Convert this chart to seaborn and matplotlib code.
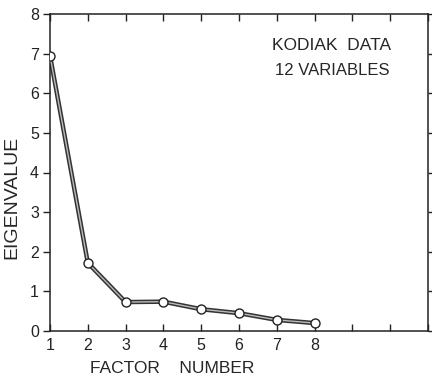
import matplotlib
matplotlib.use("Agg")
import matplotlib.pyplot as plt
import seaborn as sns
import pandas as pd

factors = [1, 2, 3, 4, 5, 6, 7, 8]
eigenvalues = [6.95, 1.72, 0.73, 0.74, 0.55, 0.45, 0.28, 0.20]
xticks = [1, 2, 3, 4, 5, 6, 7, 8]
yticks = [0, 1, 2, 3, 4, 5, 6, 7, 8]

sns.set_style("ticks")
plt.rcParams['font.family'] = ['Liberation Sans', 'DejaVu Sans']

df = pd.DataFrame({"factor": factors, "eigen": eigenvalues})

fig = plt.figure(figsize=(4.32, 3.75), dpi=100)
ax = fig.add_axes([50/432, 44/375, 378/432, 317/375])

sns.lineplot(data=df, x="factor", y="eigen", ax=ax, color="#333333", lw=3.2, zorder=2)
sns.lineplot(data=df, x="factor", y="eigen", ax=ax, color="#bbbbbb", lw=1.0, zorder=3)
sns.scatterplot(data=df, x="factor", y="eigen", ax=ax, s=42, facecolor="white",
                edgecolor="#222222", linewidth=1.0, zorder=4)

ax.set_xlim(1, 11)
ax.set_ylim(0, 8)
ax.set_xticks(range(1, 12))
ax.set_xticklabels([str(t) if t in xticks else "" for t in range(1, 12)], fontsize=11.5)
ax.set_yticks(yticks)
ax.set_yticklabels([str(t) for t in yticks], fontsize=11.5)
ax.tick_params(axis="both", direction="in", length=5, width=1.0, colors="#222222",
               top=True, right=True, labeltop=False, labelright=False)
ax.tick_params(axis="y", direction="out", pad=3)
ax.tick_params(axis="x", pad=5)
for sp in ax.spines.values():
    sp.set_visible(True)
    sp.set_color("#222222")
    sp.set_linewidth(1.1)

ax.set_xlabel("FACTOR    NUMBER", fontsize=12.5)
ax.xaxis.set_label_coords((172 - 50) / 378, -0.095)
ax.set_ylabel("EIGENVALUE", fontsize=14)
ax.yaxis.set_label_coords((20 - 50) / 378, (331 - 197) / 317)

ax.text(0.902, 0.902, "KODIAK  DATA", transform=ax.transAxes, ha="right", va="center", fontsize=12.5)
ax.text(0.899, 0.823, "12 VARIABLES", transform=ax.transAxes, ha="right", va="center", fontsize=12)

fig.savefig("out.png", dpi=100)
